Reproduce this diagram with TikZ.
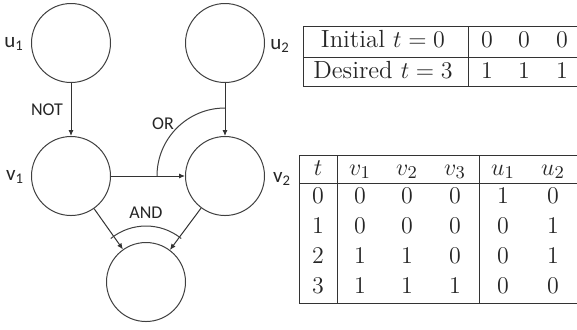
\documentclass[tikz,border=0pt]{standalone}
\usepackage{fontspec}
\newfontfamily\labfont{Carlito}
\usetikzlibrary{arrows.meta}
\begin{document}
\begin{tikzpicture}[x=0.5pt,y=0.5pt,
  state/.style={circle,draw=black!75,line width=0.5pt,minimum size=39.5pt,inner sep=0pt},
  conn/.style={draw=black!80,line width=0.5pt,-{Latex[length=3pt,width=2.6pt]}},
  gate/.style={draw=black!75,line width=0.5pt},
  lab/.style={font=\labfont\fontsize{10.5}{12}\selectfont,text=black!85,inner sep=0pt},
  glab/.style={font=\labfont\fontsize{9}{11}\selectfont,text=black!85,inner sep=0pt},
  tline/.style={draw=black!80,line width=0.5pt},
  tcell/.style={font=\fontsize{12.4}{15}\selectfont,text=black!85,inner sep=0pt,anchor=base}]
\useasboundingbox (0,0) rectangle (577,-329);
\fill[white] (0,0) rectangle (577,-329);
% graph
\node[state] (u1) at (71,-43) {};
\node[state] (u2) at (225,-43) {};
\node[state] (v1) at (71,-176) {};
\node[state] (v2) at (225,-176) {};
\node[state] (w) at (146,-282) {};
\node[lab] (lu1) at (14,-44) {u\textsubscript{1}};
\node[lab] (lu2) at (280,-46) {u\textsubscript{2}};
\node[lab] (lv1) at (15,-177) {v\textsubscript{1}};
\node[lab] (lv2) at (282,-179) {v\textsubscript{2}};
\draw[conn] (u1) -- (v1);
\draw[conn] (u2) -- (v2);
\draw[conn] (v1) -- (v2);
\draw[conn] (v1) -- (w);
\draw[conn] (v2) -- (w);
\node[glab] (not) at (47,-110) {NOT};
\node[glab] (or) at (163,-124) {OR};
\node[glab] (and) at (146,-213) {AND};
\coordinate (orc) at (225,-176);
\draw[gate] ([shift={(180:68)}]orc) arc[start angle=180,end angle=90,radius=34pt];
\coordinate (andc) at (146,-282);
\draw[gate] ([shift={(129:56)}]andc) arc[start angle=129,end angle=51,radius=28pt];
% top table
\draw[tline] (303,-26) -- (577,-26);
\draw[tline] (303,-57) -- (577,-57);
\draw[tline] (303,-86) -- (577,-86);
\draw[tline] (303,-26) -- (303,-86);
\draw[tline] (468,-26) -- (468,-86);
\node[tcell] (i0) at (383,-47) {Initial $t=0$};
\node[tcell] (d3) at (383,-78) {Desired $t=3$};
\node[tcell] (ia) at (487,-47) {$0$};
\node[tcell] (ib) at (524,-47) {$0$};
\node[tcell] (ic) at (562,-47) {$0$};
\node[tcell] (da) at (487,-78) {$1$};
\node[tcell] (db) at (524,-78) {$1$};
\node[tcell] (dc) at (562,-78) {$1$};
% bottom table
\draw[tline] (299,-155) -- (577,-155);
\draw[tline] (299,-183) -- (577,-183);
\draw[tline] (299,-303) -- (577,-303);
\draw[tline] (299,-155) -- (299,-303);
\draw[tline] (337,-155) -- (337,-303);
\draw[tline] (479,-155) -- (479,-303);
\foreach \x/\t [count=\i] in {318/t,360/v_1,407/v_2,455/v_3,503/u_1,553/u_2}
  \node[tcell] (h\i) at (\x,-175) {$\t$};
\foreach \y/\a/\b/\c/\d/\e/\f [count=\r] in
  {203/0/0/0/0/1/0, 233/1/0/0/0/0/1, 263/2/1/1/0/0/1, 293/3/1/1/1/0/0}{
  \node[tcell] (r\r a) at (318,-\y) {$\a$};
  \node[tcell] (r\r b) at (360,-\y) {$\b$};
  \node[tcell] (r\r c) at (407,-\y) {$\c$};
  \node[tcell] (r\r d) at (455,-\y) {$\d$};
  \node[tcell] (r\r e) at (503,-\y) {$\e$};
  \node[tcell] (r\r f) at (553,-\y) {$\f$};
}
\end{tikzpicture}
\end{document}
